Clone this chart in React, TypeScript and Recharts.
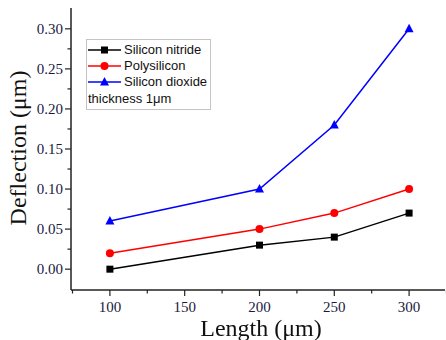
import { LineChart, Line, XAxis, YAxis } from 'recharts'

const lengths = [100, 200, 250, 300]
const siliconNitride = [0.0, 0.03, 0.04, 0.07]
const polysilicon = [0.02, 0.05, 0.07, 0.1]
const siliconDioxide = [0.06, 0.1, 0.18, 0.3]

const yTicks = [0, 0.025, 0.05, 0.075, 0.1, 0.125, 0.15, 0.175, 0.2, 0.225, 0.25, 0.275, 0.3]
const yMajor = [0, 0.05, 0.1, 0.15, 0.2, 0.25, 0.3]
const xTicks = [75, 100, 125, 150, 175, 200, 225, 250, 275, 300, 325]
const xMajor = [100, 150, 200, 250, 300]

const data = lengths.map((len, i) => ({
  length: len,
  nitride: siliconNitride[i],
  poly: polysilicon[i],
  dioxide: siliconDioxide[i],
}))

const series = [
  { key: 'nitride', name: 'Silicon nitride', color: '#000000', shape: 'square' },
  { key: 'poly', name: 'Polysilicon', color: '#ff0000', shape: 'circle' },
  { key: 'dioxide', name: 'Silicon dioxide', color: '#0000ff', shape: 'triangle' },
]

const tickFont = '"Liberation Serif", "Times New Roman", serif'
const tickColor = '#1b1b40'

function marker(shape: string, color: string, cx: number, cy: number) {
  if (shape === 'square') return <rect x={cx - 3.5} y={cy - 3.5} width={7} height={7} fill={color} />
  if (shape === 'circle') return <circle cx={cx} cy={cy} r={4} fill={color} />
  return <polygon points={`${cx},${cy - 5} ${cx - 4.5},${cy + 3.5} ${cx + 4.5},${cy + 3.5}`} fill={color} />
}

function makeDot(shape: string, color: string) {
  return (props: any) => {
    const { cx, cy, index } = props
    if (cx == null || cy == null) return <g key={index} />
    return <g key={index}>{marker(shape, color, cx, cy)}</g>
  }
}

function YTick(props: any) {
  const { x, y, payload } = props
  const major = yMajor.some((v) => Math.abs(v - payload.value) < 1e-9)
  return (
    <g>
      <line x1={x} x2={x - (major ? 6 : 3.5)} y1={y} y2={y} stroke="#222" strokeWidth={1.2} />
      {major && (
        <text x={x - 8} y={y} dy={5} textAnchor="end" fontSize={15} fontFamily={tickFont} fill={tickColor}>
          {payload.value.toFixed(2)}
        </text>
      )}
    </g>
  )
}

function XTick(props: any) {
  const { x, y, payload } = props
  const major = xMajor.includes(payload.value)
  return (
    <g>
      <line x1={x} x2={x} y1={y} y2={y + (major ? 6 : 3.5)} stroke="#222" strokeWidth={1.2} />
      {major && (
        <text x={x} y={y + 22} textAnchor="middle" fontSize={15} fontFamily={tickFont} fill={tickColor}>
          {payload.value}
        </text>
      )}
    </g>
  )
}

function LegendBox() {
  return (
    <div
      style={{
        position: 'absolute',
        left: 86,
        top: 39,
        border: '1px solid #c4c4c4',
        background: 'rgba(255,255,255,0.9)',
        padding: '2px 3px 1px 1px',
        fontFamily: '"Liberation Sans", Arial, sans-serif',
        fontSize: 13,
        color: '#111',
        lineHeight: '16px',
        whiteSpace: 'nowrap',
      }}
    >
      {series.map((s) => (
        <div key={s.key} style={{ display: 'flex', alignItems: 'center', height: 16 }}>
          <svg width={34} height={12} style={{ marginRight: 2 }}>
            <line x1={0} x2={33} y1={6} y2={6} stroke={s.color} strokeWidth={1.5} />
            {marker(s.shape, s.color, 16.5, 6)}
          </svg>
          <span>{s.name}</span>
        </div>
      ))}
      <div style={{ height: 17, paddingTop: 1 }}>thickness 1μm</div>
    </div>
  )
}

export default function App() {
  return (
    <div style={{ position: 'fixed', left: 0, top: 0, width: 446, height: 340, background: '#fff' }}>
      <LineChart width={446} height={340} data={data} margin={{ top: 8, right: 1, bottom: 0, left: 0 }}>
        <XAxis
          dataKey="length"
          type="number"
          domain={[74, 324]}
          ticks={xTicks}
          interval={0}
          tick={<XTick />}
          tickLine={false}
          tickSize={0}
          tickMargin={0}
          axisLine={{ stroke: '#222', strokeWidth: 1.5 }}
          height={50}
          allowDataOverflow
        />
        <XAxis
          xAxisId="top"
          orientation="top"
          dataKey="length"
          type="number"
          domain={[74, 324]}
          tick={false}
          tickLine={false}
          axisLine={{ stroke: '#111', strokeWidth: 2.5 }}
          height={0}
        />
        <YAxis
          type="number"
          domain={[-0.026, 0.326]}
          ticks={yTicks}
          interval={0}
          tick={<YTick />}
          tickLine={false}
          tickSize={0}
          tickMargin={0}
          axisLine={{ stroke: '#222', strokeWidth: 1.5 }}
          width={71}
          allowDataOverflow
        />
        {series.map((s) => (
          <Line
            key={s.key}
            dataKey={s.key}
            name={s.name}
            stroke={s.color}
            strokeWidth={1.5}
            type="linear"
            dot={makeDot(s.shape, s.color)}
            activeDot={false}
            isAnimationActive={false}
          />
        ))}
      </LineChart>
      <LegendBox />
      <div
        style={{
          position: 'absolute',
          left: 18,
          top: 148,
          transform: 'translate(-50%, -50%) rotate(-90deg)',
          fontFamily: tickFont,
          fontSize: 24,
          whiteSpace: 'nowrap',
          color: '#111',
        }}
      >
        Deflection (μm)
      </div>
      <div
        style={{
          position: 'absolute',
          left: 261,
          top: 328,
          transform: 'translate(-50%, -50%)',
          fontFamily: tickFont,
          fontSize: 24,
          lineHeight: '24px',
          whiteSpace: 'nowrap',
          color: '#111',
        }}
      >
        Length (μm)
      </div>
    </div>
  )
}
